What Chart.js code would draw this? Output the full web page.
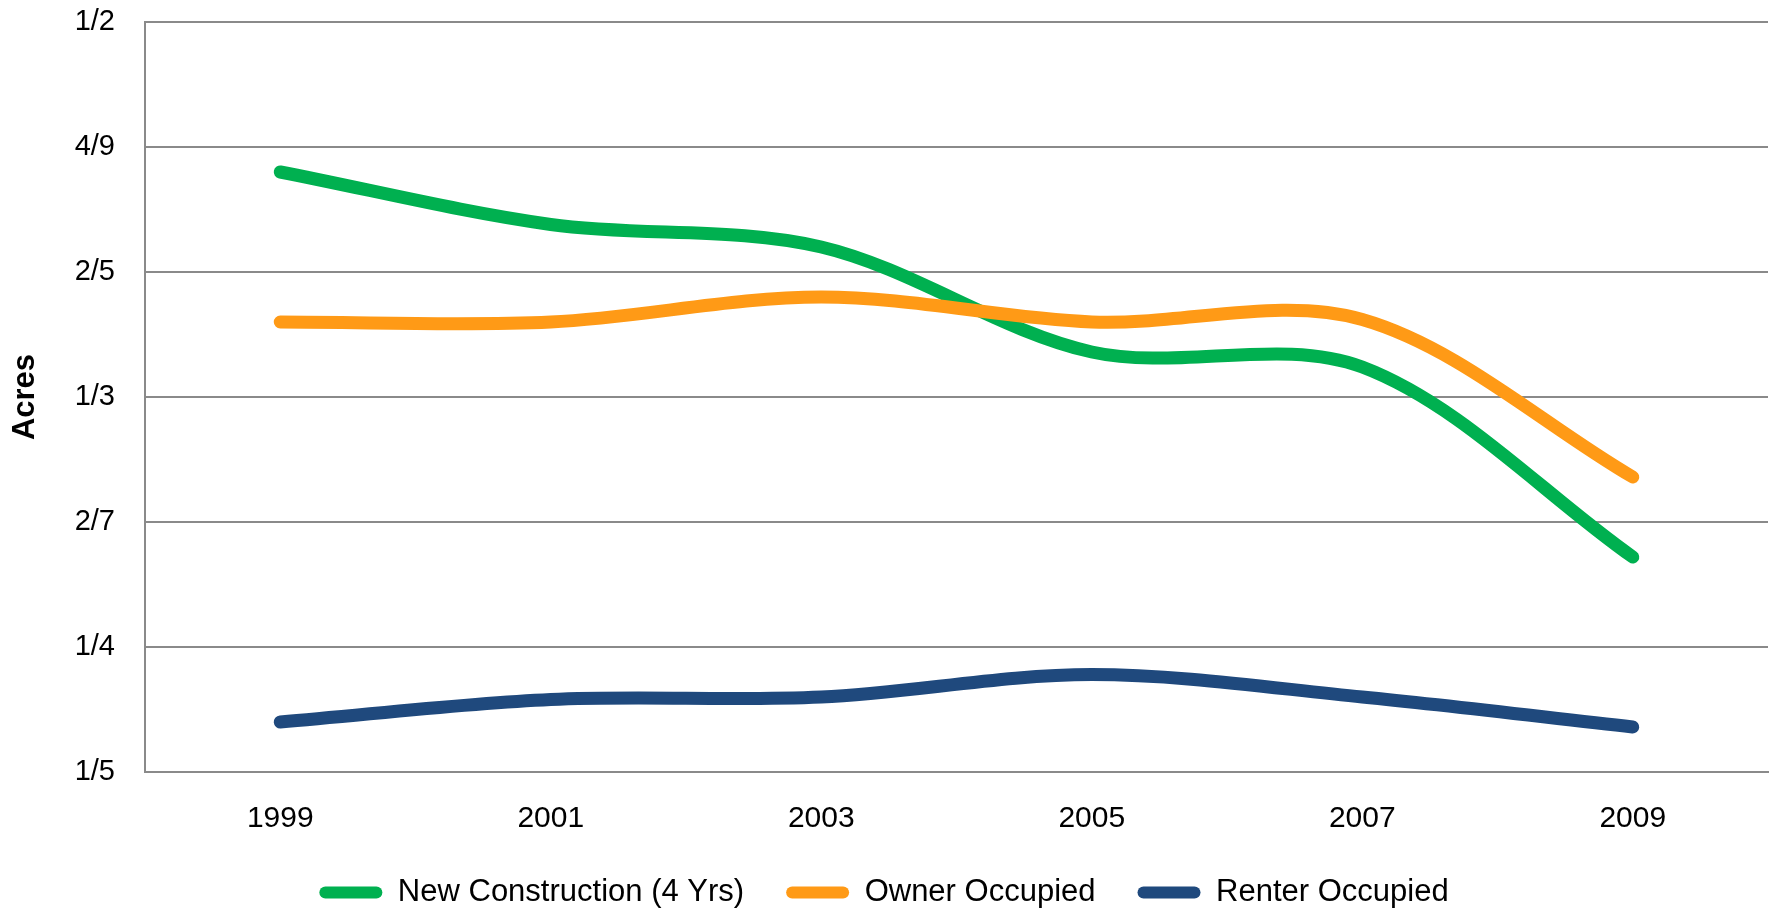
<!DOCTYPE html>
<html>
<head>
<meta charset="utf-8">
<script src="https://cdn.jsdelivr.net/npm/chart.js@4.4.1/dist/chart.umd.min.js"></script>
<style>
  html, body { margin: 0; padding: 0; background: #fff; }
  #wrap { width: 1774px; height: 913px; }
</style>
</head>
<body>
<div id="wrap"><canvas id="acresChart"></canvas></div>
<script>
const years = ["1999", "2001", "2003", "2005", "2007", "2009"];
const newConstruction = [0.440, 0.419, 0.410, 0.368, 0.362, 0.286];
const ownerOccupied = [0.380, 0.380, 0.390, 0.380, 0.381, 0.318];
const renterOccupied = [0.220, 0.229, 0.230, 0.239, 0.230, 0.218];

// axis runs 0.20 -> 0.50 in 0.05 steps, labelled as the nearest one-digit fraction
const tickValues = [0.20, 0.25, 0.30, 0.35, 0.40, 0.45, 0.50];
const tickLabels = ["1/5", "1/4", "2/7", "1/3", "2/5", "4/9", "1/2"];

const gridColor = "#8a8a8a";
const font = "'Liberation Sans', Arial, sans-serif";

function line(label, data, color, order) {
    return {
        label: label,
        data: data,
        borderColor: color,
        backgroundColor: color,
        borderWidth: 13,
        borderCapStyle: "round",
        borderJoinStyle: "round",
        pointRadius: 0,
        tension: 0.33,
        fill: false,
        order: order
    };
}

document.addEventListener("DOMContentLoaded", () => {
    const ctx = document.getElementById("acresChart").getContext("2d");
    new Chart(ctx, {
        type: "line",
        data: {
            labels: years,
            datasets: [
                line("New Construction (4 Yrs)", newConstruction, "#00b050", 3),
                line("Owner Occupied", ownerOccupied, "#ff9a16", 2),
                line("Renter Occupied", renterOccupied, "#1f497d", 1)
            ]
        },
        options: {
            responsive: true,
            maintainAspectRatio: false,
            animation: false,
            layout: {
                padding: { top: 22, right: 6, bottom: -5, left: 0 }
            },
            scales: {
                x: {
                    offset: true,
                    grid: { display: false, drawTicks: false },
                    border: { display: true, color: gridColor, width: 2 },
                    ticks: {
                        color: "#000",
                        padding: 29,
                        font: { family: font, size: 30 }
                    },
                    afterFit: (scale) => { scale.height = 63; }
                },
                y: {
                    min: 0.2,
                    max: 0.5,
                    // invisible tick marks keep the labels off the axis without
                    // the extra top padding that ticks.padding would add
                    grid: { color: gridColor, lineWidth: 2, drawTicks: true, tickLength: 30, tickColor: "rgba(0,0,0,0)" },
                    border: { display: true, color: gridColor, width: 2 },
                    ticks: {
                        stepSize: 0.05,
                        color: "#000",
                        padding: 0,
                        font: { family: font, size: 29 },
                        callback: (value) => {
                            const i = tickValues.findIndex(t => Math.abs(t - value) < 1e-6);
                            return i >= 0 ? tickLabels[i] : "";
                        }
                    },
                    title: {
                        display: true,
                        text: "Acres",
                        color: "#000",
                        padding: { top: 7, bottom: 0 },
                        font: { family: font, size: 31, weight: "bold" }
                    },
                    afterFit: (scale) => { scale.width = 145; }
                }
            },
            plugins: {
                tooltip: { enabled: false },
                legend: {
                    position: "bottom",
                    labels: {
                        color: "#000",
                        font: { family: font, size: 31 },
                        boxWidth: 63,
                        boxHeight: 12,
                        padding: 42,
                        useBorderRadius: true,
                        sort: (a, b) => a.datasetIndex - b.datasetIndex,
                        generateLabels: (chart) => {
                            const items = Chart.defaults.plugins.legend.labels.generateLabels(chart);
                            return items.map(item => Object.assign(item, {
                                fillStyle: item.strokeStyle,
                                lineWidth: 0,
                                borderRadius: 6
                            }));
                        }
                    }
                }
            }
        }
    });
});
</script>
</body>
</html>
